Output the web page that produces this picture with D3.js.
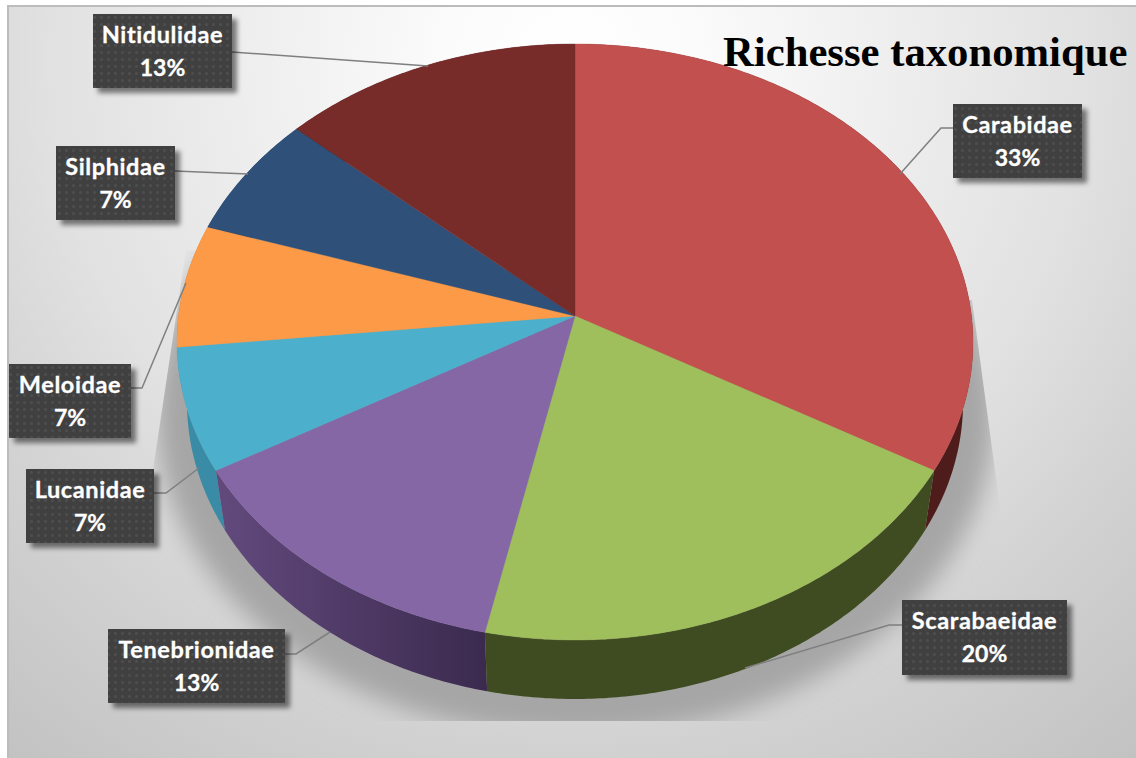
<!DOCTYPE html>
<html>
<head>
<meta charset="utf-8">
<script src="https://cdnjs.cloudflare.com/ajax/libs/d3/7.8.5/d3.min.js"></script>
<style>
html,body{margin:0;padding:0;background:#fff;overflow:hidden}
svg{display:block}
</style>
</head>
<body>
<svg id="chart" width="1136" height="758"></svg>
<script>
// Family names and species counts, clockwise from twelve o'clock
const families = ["Carabidae","Scarabaeidae","Tenebrionidae","Lucanidae","Meloidae","Silphidae","Nitidulidae"];
const speciesCounts = [5,3,2,1,1,1,2];
const topColors  = ["#c2504e","#9fbe5c","#8567a6","#4cb0cc","#fd9a47","#2e5079","#772c2a"];
const wallColors = ["#4f1c1c","#3f4b20","url(#wallPurple)","#3a8ca6","#b0662a","#1d3450","#4f1c1c"];
const chartTitle = "Richesse taxonomique";

// Label boxes [x0,y0,x1,y1] and their leader polylines, in family order
const labelBoxes = [
  [953,104,1082,178],[902,600,1067,675],[108,629,285,703],
  [26,469,154,543],[9,364,131,438],[56,146,175,220],[93,14,232,88]
];
const leaders = [
  [[953,128],[941,128],[900,174]],
  [[902,625],[889,625],[745,668]],
  [[285,654],[296,654],[330,632]],
  [[154,493],[166,493],[199,468]],
  [[131,388],[142,388],[186,283]],
  [[175,171],[248,174]],
  [[232,52],[428,66]]
];

const W = 1136, H = 758;
const svg = d3.select("#chart");
const defs = svg.append("defs");

// Panel background
const bg = defs.append("radialGradient").attr("id","panelBg")
  .attr("gradientUnits","userSpaceOnUse").attr("cx",570).attr("cy",60).attr("r",900);
[[0,"#ffffff"],[0.14,"#fbfbfb"],[0.58,"#e1e1e1"],[0.76,"#d2d2d2"],[1,"#c2c2c2"]]
  .forEach(([o,c]) => bg.append("stop").attr("offset",o).attr("stop-color",c));

const wp = defs.append("linearGradient").attr("id","wallPurple")
  .attr("gradientUnits","userSpaceOnUse").attr("x1",225).attr("x2",488).attr("y1",0).attr("y2",0);
wp.append("stop").attr("offset",0).attr("stop-color","#61497c");
wp.append("stop").attr("offset",1).attr("stop-color","#3b2a4e");

defs.append("filter").attr("id","softShadow")
  .attr("x","-10%").attr("y","-10%").attr("width","120%").attr("height","120%")
  .append("feGaussianBlur").attr("stdDeviation",12);

const box = defs.append("filter").attr("id","boxShadow")
  .attr("x","-15%").attr("y","-15%").attr("width","130%").attr("height","140%");
box.append("feDropShadow").attr("dx",5).attr("dy",5).attr("stdDeviation",2.5)
  .attr("flood-color","#000").attr("flood-opacity",0.5);

defs.append("clipPath").attr("id","shadowClip").append("polygon")
  .attr("points","186,250 153,470 153,721 1010,721 1001,515 972,300");

// Dotted fill of the label boxes
const pat = defs.append("pattern").attr("id","dots").attr("patternUnits","userSpaceOnUse")
  .attr("width",14).attr("height",14);
pat.append("rect").attr("width",14).attr("height",14).attr("fill","#3f3f3f");
[[3.5,3.5],[10.5,3.5],[3.5,10.5],[10.5,10.5]].forEach(([x,y]) =>
  pat.append("circle").attr("cx",x).attr("cy",y).attr("r",1.5).attr("fill","#4e4e4e"));

svg.append("rect").attr("x",7).attr("y",5).attr("width",W-7).attr("height",H-5).attr("fill","#bcbcbc");
svg.append("rect").attr("x",9).attr("y",7).attr("width",W-9).attr("height",H-7).attr("fill","url(#panelBg)");

// Drop shadow below the disc
svg.append("g").attr("clip-path","url(#shadowClip)")
  .append("ellipse").attr("cx",575).attr("cy",412).attr("rx",420).attr("ry",325)
  .attr("fill","#a6a6a6").attr("filter","url(#softShadow)");

// Perspective view of a flat disc: the hub sits above the centre of the ellipse
const cx = 575, hubY = 316, farY = 44, nearY = 640;
const persp = ((nearY - hubY) - (hubY - farY)) / (nearY - farY);
const slope = farY * persp + farY - hubY;
const radiusX = 398 * Math.sqrt(1 - persp * persp);
function projectTop(a){
  const u = Math.sin(a), v = Math.cos(a), d = 1 + persp * v;
  return [cx + radiusX * u / d, (slope * v + hubY) / d];
}
// Rim of the underside, slightly narrower and lower
const midY = (farY + nearY) / 2;
function projectBottom(a){
  const [x,y] = projectTop(a);
  return [cx + (x - cx) * 0.975, midY + 60 + (y - midY) * 0.9966];
}

const pie = d3.pie().sort(null).value(d => d);
const arcs = pie(speciesCounts);
const total = d3.sum(speciesCounts);
const pct = d3.format(".0%");
const line = d3.line();
const samples = (a0,a1) => {
  const n = Math.max(2, Math.ceil((a1 - a0) / 0.01));
  return d3.range(n + 1).map(i => a0 + (a1 - a0) * i / n);
};

// Side wall, painted from the back of the disc towards the viewer
const wallOrder = d3.range(arcs.length).sort((p,q) => {
  const mid = i => (arcs[i].startAngle + arcs[i].endAngle) / 2;
  return Math.abs(mid(q) - Math.PI) - Math.abs(mid(p) - Math.PI);
});
svg.append("g").selectAll("path").data(wallOrder).join("path")
  .attr("d", i => {
    const s = samples(arcs[i].startAngle, arcs[i].endAngle);
    return line([...s.map(projectTop), ...s.slice().reverse().map(projectBottom)]) + "Z";
  })
  .attr("fill", i => wallColors[i]);

// Top face of each slice
svg.append("g").selectAll("path").data(arcs).join("path")
  .attr("d", d => line([[cx,hubY], ...samples(d.startAngle,d.endAngle).map(projectTop)]) + "Z")
  .attr("fill", (d,i) => topColors[i])
  .attr("stroke", (d,i) => topColors[i]).attr("stroke-width",0.4);

// Leader lines
svg.append("g").selectAll("path").data(leaders).join("path")
  .attr("d", d => line(d)).attr("fill","none")
  .attr("stroke","#7f7f7f").attr("stroke-width",1.5);

// Labels
const labels = svg.append("g").selectAll("g").data(families).join("g");
labels.append("rect")
  .attr("x",(d,i) => labelBoxes[i][0]).attr("y",(d,i) => labelBoxes[i][1])
  .attr("width",(d,i) => labelBoxes[i][2]-labelBoxes[i][0])
  .attr("height",(d,i) => labelBoxes[i][3]-labelBoxes[i][1])
  .attr("fill","url(#dots)").attr("filter","url(#boxShadow)");
const labelText = labels.append("text")
  .attr("text-anchor","middle").attr("fill","#fff")
  .attr("stroke","#fff").attr("stroke-width",0.3)
  .attr("font-family","Lato, 'Open Sans', sans-serif").attr("font-weight",700);
labelText.append("tspan")
  .attr("font-size",23.5).attr("letter-spacing",0.6)
  .attr("x",(d,i) => (labelBoxes[i][0]+labelBoxes[i][2])/2)
  .attr("y",(d,i) => labelBoxes[i][1]+29).text(d => d);
labelText.append("tspan")
  .attr("font-size",23).attr("letter-spacing",0)
  .attr("x",(d,i) => (labelBoxes[i][0]+labelBoxes[i][2])/2)
  .attr("y",(d,i) => labelBoxes[i][1]+62).text((d,i) => pct(speciesCounts[i]/total));

// Title
svg.append("text").attr("x",723).attr("y",66)
  .attr("font-family","'Liberation Serif', serif").attr("font-weight",700)
  .attr("font-size",42.7).attr("fill","#000").text(chartTitle);
</script>
</body>
</html>
